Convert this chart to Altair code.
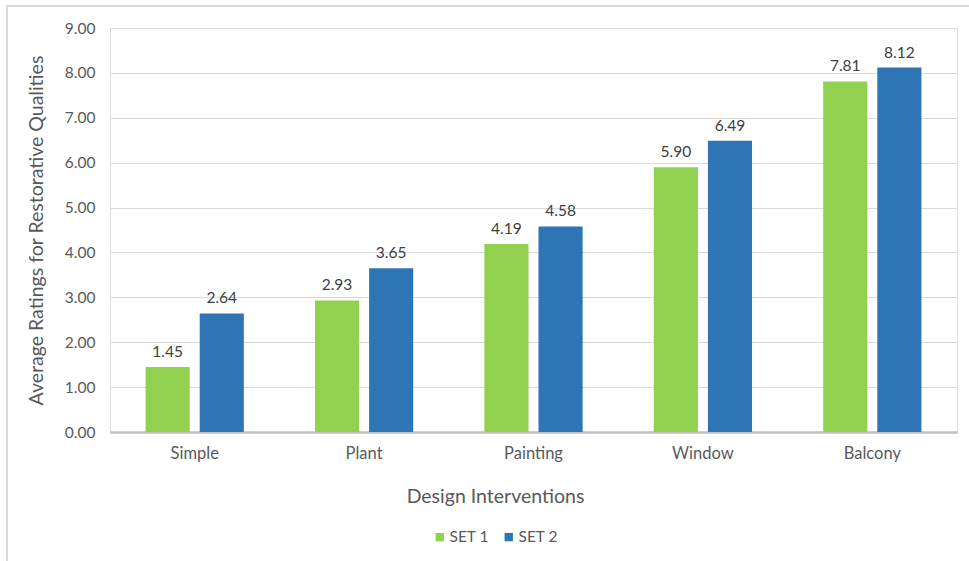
import altair as alt
import pandas as pd

categories = ["Simple", "Plant", "Painting", "Window", "Balcony"]
set1 = [1.45, 2.93, 4.19, 5.90, 7.81]
set2 = [2.64, 3.65, 4.58, 6.49, 8.12]
series = ["SET 1", "SET 2"]
colors = ["#92D050", "#2E75B6"]

rows = []
for i, c in enumerate(categories):
    rows.append({"Intervention": c, "Set": series[0], "Rating": set1[i]})
    rows.append({"Intervention": c, "Set": series[1], "Rating": set2[i]})
df = pd.DataFrame(rows)

FONT = "Lato"
TXT = "#595959"

x_enc = alt.X(
    "Intervention:N",
    sort=categories,
    scale=alt.Scale(paddingInner=0.42, paddingOuter=0.21),
    axis=alt.Axis(
        title="Design Interventions",
        labelAngle=0,
        labelFontSize=16.5,
        labelColor=TXT,
        labelPadding=13,
        ticks=False,
        domainColor="#BFBFBF",
        domainWidth=2.5,
        titleFontSize=19.5,
        titleFontWeight="normal",
        titleColor=TXT,
        titlePadding=26,
        titleX=385,
        titleAlign="center",
        grid=False,
    ),
)
xoff = alt.XOffset("Set:N", sort=series, scale=alt.Scale(paddingInner=0.185, paddingOuter=0))
y_enc = alt.Y(
    "Rating:Q",
    scale=alt.Scale(domain=[0, 9], nice=False),
    axis=alt.Axis(
        title="Average Ratings for Restorative Qualities",
        values=list(range(10)),
        format=".2f",
        labelFontSize=15.5,
        labelColor=TXT,
        labelPadding=15,
        ticks=False,
        domain=False,
        gridColor="#D9D9D9",
        gridWidth=1,
        titleFontSize=19.5,
        titleFontWeight="normal",
        titleColor=TXT,
        titleX=-64,
    ),
)

bars = alt.Chart(df).mark_bar().encode(
    x=x_enc,
    xOffset=xoff,
    y=y_enc,
    color=alt.Color(
        "Set:N",
        sort=series,
        scale=alt.Scale(domain=series, range=colors),
        legend=alt.Legend(
            title=None,
            orient="none",
            direction="horizontal",
            legendX=322,
            legendY=501,
            symbolType="square",
            symbolSize=70,
            symbolStrokeWidth=0,
            labelFontSize=15.5,
            labelColor=TXT,
            labelFont=FONT,
            columnPadding=12,
            symbolOffset=0,
            labelOffset=2,
        ),
    ),
)

labels = alt.Chart(df).mark_text(
    baseline="bottom", dy=-7, fontSize=15.5, color="#404040", font=FONT
).encode(
    x=alt.X("Intervention:N", sort=categories),
    xOffset=alt.XOffset("Set:N", sort=series),
    y="Rating:Q",
    text=alt.Text("Rating:Q", format=".2f"),
)

frame = alt.Chart(pd.DataFrame({"k": [0]})).mark_rect(
    fill=None, stroke="#D9D9D9", strokeWidth=2
).encode(
    x=alt.value(-103), x2=alt.value(870), y=alt.value(-22), y2=alt.value(545)
)

chart = (
    alt.layer(frame, bars, labels)
    .properties(
        width=847,
        height=404,
        autosize=alt.AutoSizeParams(type="none"),
        padding={"left": 110, "top": 28, "right": 12, "bottom": 129},
        background="white",
    )
    .configure_view(stroke=None)
    .configure(font=FONT)
)

chart.save("out.html", embed_options={"renderer": "svg", "actions": False})
